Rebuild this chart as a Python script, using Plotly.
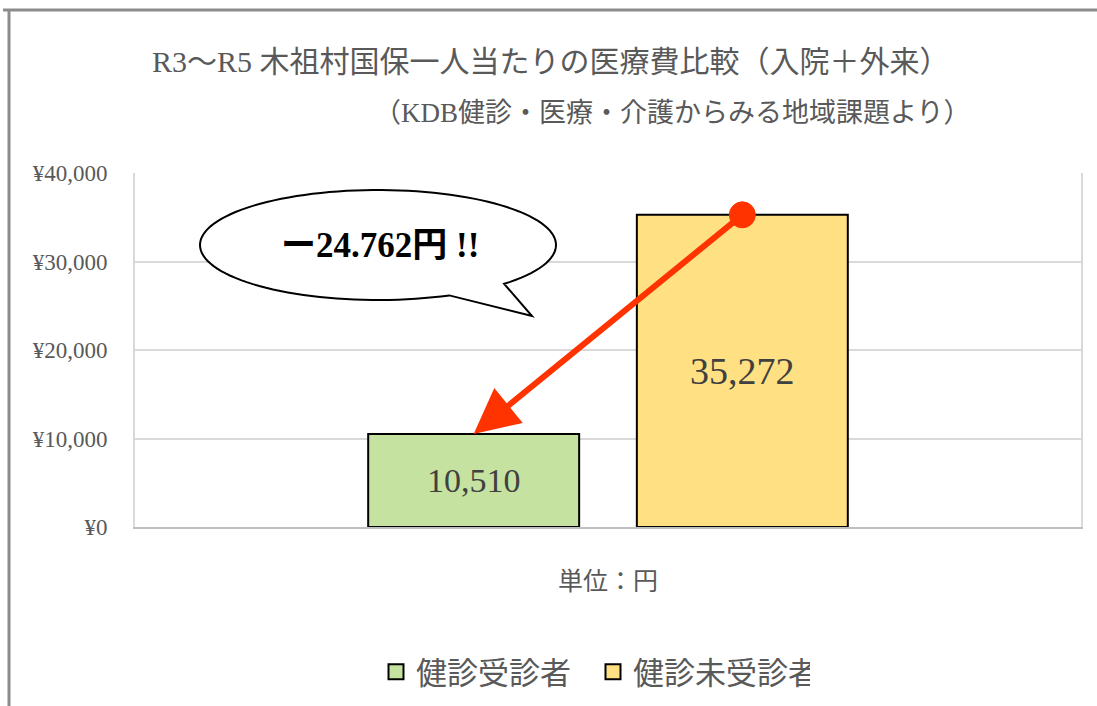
import numpy as np
import plotly.graph_objects as go

categories = ["単位：円"]
series_names = ["健診受診者", "健診未受診者"]
series_values = [[10510], [35272]]
series_colors = ["#C5E2A0", "#FFE082"]
callout_text = "ー24.762円 !!"
title_text = "R3～R5 木祖村国保一人当たりの医療費比較（入院＋外来）"
subtitle_text = "（KDB健診・医療・介護からみる地域課題より）"

W, H = 1097, 706
L, R, T, B = 135, 16, 173, 179
PW, PH = W - L - R, H - T - B

def px(x):
    return (x - L) / PW

def py(y):
    return (H - B - y) / PH

SERIF = "Liberation Serif, Noto Sans CJK JP, serif"
GRAY = "#595959"

bar_width = 0.223
offsets = [-0.2535, 0.0305]
label_sizes = [34, 38]
centers = [o + bar_width / 2 for o in offsets]

fig = go.Figure()
for name, vals, col, off, ls in zip(series_names, series_values, series_colors, offsets, label_sizes):
    fig.add_trace(go.Bar(
        name=name, x=categories, y=vals, width=bar_width, offset=off,
        marker=dict(color=col, line=dict(color="black", width=2)),
        texttemplate="%{y:,}", textposition="inside", insidetextanchor="middle",
        textfont=dict(family=SERIF, size=ls, color="#404040"),
        showlegend=False,
    ))
# legend entries with larger square symbols
for name, col in zip(series_names, series_colors):
    fig.add_trace(go.Scatter(
        name=name, x=[None], y=[None], mode="markers",
        marker=dict(symbol="square", size=15, color=col, line=dict(color="black", width=2)),
        showlegend=True,
    ))

# callout bubble path (pixel geometry -> paper coords)
cx, cy, rx, ry = 378, 245, 178, 55
a0, a1 = np.deg2rad(66.4), np.deg2rad(44.9 + 360)
angs = np.linspace(a0, a1, 120)
pts = [(cx + rx * np.cos(a), cy + ry * np.sin(a)) for a in angs]
pts.append((532, 316))
path = "M " + " L ".join(f"{px(x):.5f},{py(y):.5f}" for x, y in pts) + " Z"

shapes = [
    dict(type="path", path=path, xref="paper", yref="paper",
         fillcolor="white", line=dict(color="black", width=2), layer="above"),
    # outer frame (left and top)
    dict(type="line", xref="paper", yref="paper", x0=px(9), x1=px(9), y0=py(10), y1=py(706),
         line=dict(color="#8C8C8C", width=3)),
    dict(type="line", xref="paper", yref="paper", x0=px(3), x1=px(1097), y0=py(10), y1=py(10),
         line=dict(color="#8C8C8C", width=3)),
    # red dot at arrow tail
    dict(type="circle", xref="x", yref="y", xsizemode="pixel", ysizemode="pixel",
         xanchor=centers[1], yanchor=series_values[1][0], x0=-13, x1=13, y0=-13, y1=13,
         fillcolor="#FF3300", line=dict(color="#FF3300", width=1), layer="above"),
]

annotations = [
    dict(text=title_text, xref="paper", yref="paper", x=px(551), y=py(62),
         xanchor="center", yanchor="middle", showarrow=False,
         font=dict(family=SERIF, size=30, color=GRAY)),
    dict(text=subtitle_text, xref="paper", yref="paper", x=px(672), y=py(113),
         xanchor="center", yanchor="middle", showarrow=False,
         font=dict(family=SERIF, size=27, color=GRAY)),
    dict(text="<b>" + callout_text + "</b>", xref="paper", yref="paper", x=px(380), y=py(245),
         xanchor="center", yanchor="middle", showarrow=False,
         font=dict(family=SERIF, size=35, color="black")),
    dict(text="", x=centers[0], y=series_values[0][0], xref="x", yref="y",
         ax=centers[1], ay=series_values[1][0], axref="x", ayref="y",
         showarrow=True, arrowhead=2, arrowsize=1.5, arrowwidth=6, arrowcolor="#FF3300",
         standoff=0, startstandoff=0),
]

fig.update_layout(
    width=W, height=H, autosize=False,
    margin=dict(l=L, r=R, t=T, b=B, pad=0),
    paper_bgcolor="white", plot_bgcolor="white",
    barmode="overlay",
    showlegend=True,
    legend=dict(orientation="h", xref="container", yref="container",
                x=376 / W, xanchor="left", y=(H - 672) / H, yanchor="middle",
                font=dict(family=SERIF, size=31, color=GRAY),
                entrywidth=172, entrywidthmode="pixels",
                traceorder="normal", bgcolor="rgba(0,0,0,0)"),
    shapes=shapes, annotations=annotations,
    xaxis=dict(type="category", range=[-0.5, 0.5], showgrid=False, showline=True,
               linecolor="#BFBFBF", linewidth=2, ticks="", ticklabelstandoff=31,
               tickfont=dict(family=SERIF, size=25, color=GRAY)),
    yaxis=dict(range=[0, 40000], dtick=10000, tickprefix="¥", tickformat=",",
               showgrid=True, gridcolor="#D9D9D9", gridwidth=2, zeroline=False,
               showline=True, mirror=True, linecolor="#D9D9D9", linewidth=2,
               ticks="", ticklabelstandoff=21,
               tickfont=dict(family=SERIF, size=23, color=GRAY)),
)

fig.write_html("out.html")
